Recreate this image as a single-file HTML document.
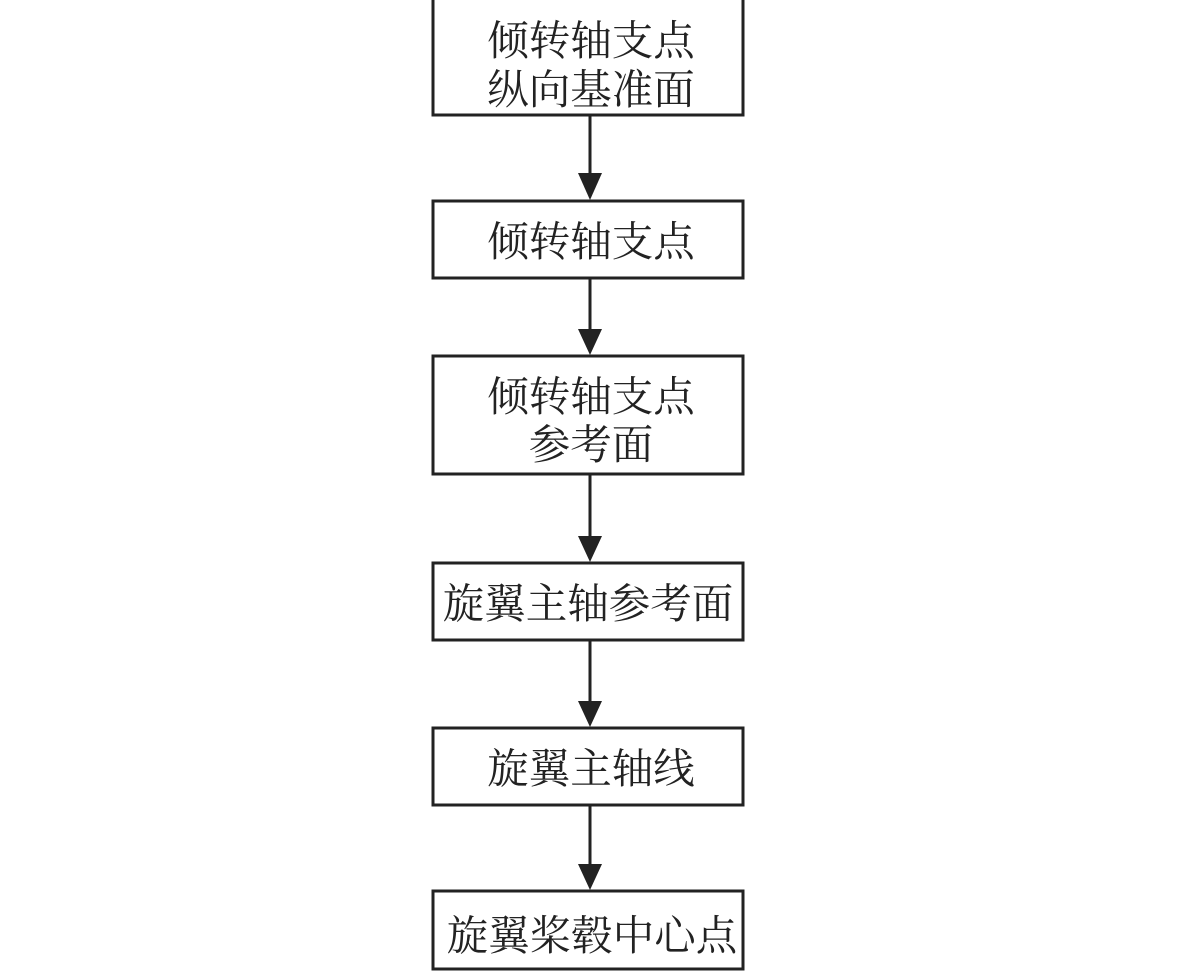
<!DOCTYPE html>
<html><head><meta charset="utf-8"><style>
html,body{margin:0;padding:0;background:#fff;}
svg{display:block;}
text{font-family:"Liberation Serif","Noto Serif CJK SC",serif;font-size:41.5px;fill:#222;text-anchor:middle;}
</style></head><body>
<svg width="1181" height="972" viewBox="0 0 1181 972">
<g fill="none" stroke="#222" stroke-width="3">
<rect x="433" y="-2" width="310" height="117"/>
<rect x="433" y="201" width="310" height="77"/>
<rect x="433" y="356" width="310" height="118"/>
<rect x="433" y="563" width="310" height="77"/>
<rect x="433" y="728" width="310" height="77"/>
<rect x="433" y="891" width="310" height="78"/>
<line x1="590" y1="116" x2="590" y2="180"/>
<line x1="590" y1="279" x2="590" y2="336"/>
<line x1="590" y1="475" x2="590" y2="543"/>
<line x1="590" y1="641" x2="590" y2="708"/>
<line x1="590" y1="806" x2="590" y2="871"/>
</g>
<g fill="#222">
<polygon points="578,173 602,173 590,200"/>
<polygon points="578,329 602,329 590,355"/>
<polygon points="578,536 602,536 590,562"/>
<polygon points="578,701 602,701 590,727"/>
<polygon points="578,864 602,864 590,890"/>
</g>
<text x="591" y="55">倾转轴支点</text>
<text x="591" y="104">纵向基准面</text>
<text x="591" y="256">倾转轴支点</text>
<text x="591" y="411">倾转轴支点</text>
<text x="591" y="459">参考面</text>
<text x="588" y="618">旋翼主轴参考面</text>
<text x="591" y="783">旋翼主轴线</text>
<text x="592" y="950">旋翼桨毂中心点</text>
</svg>
</body></html>
